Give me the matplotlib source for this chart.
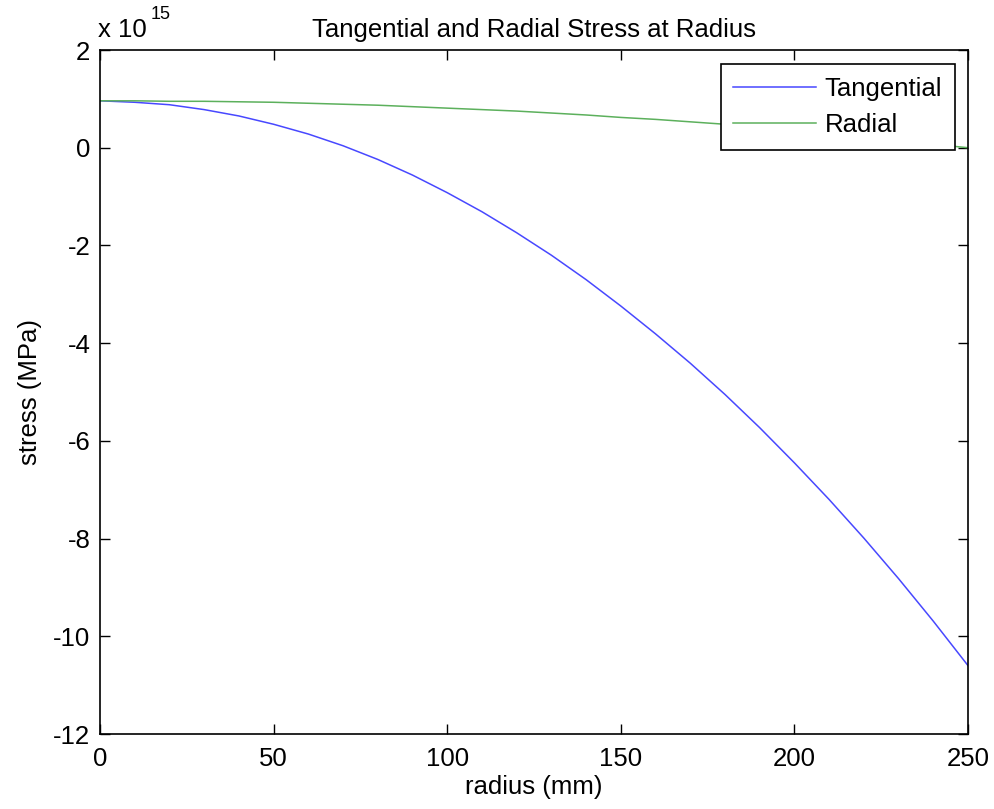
import numpy as np
import matplotlib.pyplot as plt

plt.rcParams['font.family'] = ['Liberation Sans', 'DejaVu Sans']
plt.rcParams['axes.unicode_minus'] = False

# radius in mm, stress in units of 1e15
radius = [0, 10, 20, 30, 40, 50, 60, 70, 80, 90, 100, 110, 120, 130, 140,
          150, 160, 170, 180, 190, 200, 210, 220, 230, 240, 250]
tangential = [0.96, 0.93, 0.88, 0.78, 0.65, 0.48, 0.28, 0.04, -0.24, -0.56,
              -0.92, -1.31, -1.74, -2.20, -2.70, -3.24, -3.81, -4.41, -5.05,
              -5.73, -6.45, -7.20, -7.99, -8.82, -9.69, -10.6]
radial = [0.96, 0.96, 0.95, 0.95, 0.94, 0.93, 0.91, 0.89, 0.87, 0.84, 0.81,
          0.78, 0.75, 0.71, 0.67, 0.62, 0.58, 0.53, 0.48, 0.41, 0.35, 0.28,
          0.21, 0.14, 0.07, 0.0]

xticks = [0, 50, 100, 150, 200, 250]
yticks = [-12, -10, -8, -6, -4, -2, 0, 2]

fs = 18.5

fig = plt.figure(figsize=(9.95, 8.09), dpi=100)
ax = fig.add_axes([100/995, 75/809, 868/995, 684/809])

ax.plot(radius, tangential, color='#4848ff', lw=1.1, label='Tangential')
ax.plot(radius, radial, color='#5cb05c', lw=1.1, label='Radial')

ax.set_xlim(0, 250)
ax.set_ylim(-12, 2)
ax.set_xticks(xticks)
ax.set_yticks(yticks)
ax.tick_params(direction='in', length=7, width=1, top=True, right=True,
               labelsize=fs)
ax.tick_params(axis='y', pad=7)
ax.tick_params(axis='x', pad=9)
for s in ax.spines.values():
    s.set_linewidth(1.2)

ax.set_xlabel('radius (mm)', fontsize=fs, labelpad=3)
ax.set_ylabel('stress (MPa)', fontsize=fs, labelpad=8)
ax.set_title('Tangential and Radial Stress at Radius', fontsize=fs, pad=9)

# exponent marker for the y axis
ax.text(-0.002, 1.011, 'x 10', transform=ax.transAxes, fontsize=fs,
        ha='left', va='bottom')
ax.text(0.058, 1.04, '15', transform=ax.transAxes, fontsize=13,
        ha='left', va='bottom')

leg = ax.legend(loc='upper right', bbox_to_anchor=(0.985, 0.98),
                borderaxespad=0, fontsize=fs, fancybox=False,
                edgecolor='black', framealpha=1, handlelength=3.2,
                handletextpad=0.35, borderpad=0.5, labelspacing=0.5)
leg.get_frame().set_linewidth(1.2)

fig.savefig('out.png', dpi=100)
